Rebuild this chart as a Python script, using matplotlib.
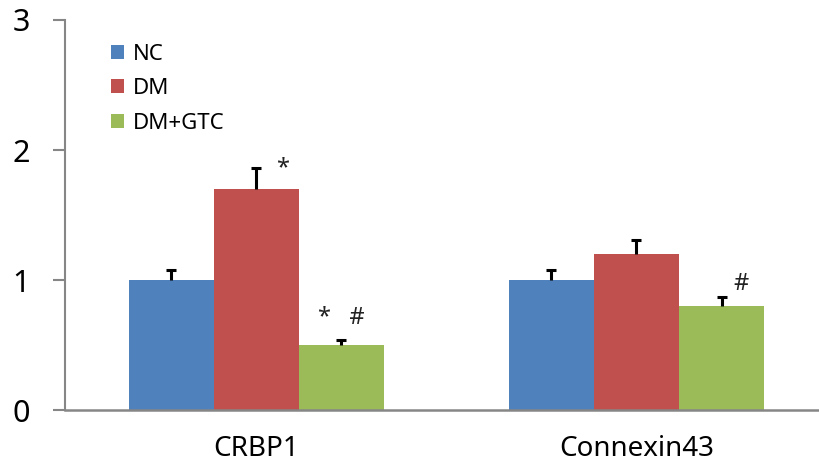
import numpy as np
import matplotlib
matplotlib.use('Agg')
import matplotlib.pyplot as plt

# data
genes = ['CRBP1', 'Connexin43']
groups = ['NC', 'DM', 'DM+GTC']
nc = [1.0, 1.0]
dm = [1.7, 1.2]
gtc = [0.5, 0.8]
nc_err = [0.08, 0.08]
dm_err = [0.16, 0.11]
gtc_err = [0.04, 0.07]
# significance marks: (gene index, group index, label, dx, dy)
marks = [(0, 1, '*', 0.068, 0.0), (0, 2, '*   #', 0.0, 0.17), (1, 2, '#', 0.05, 0.1)]

colors = ['#4F81BD', '#C0504D', '#9BBB59']
plt.rcParams['font.family'] = ['Noto Sans', 'DejaVu Sans']

fig = plt.figure(figsize=(8.19, 4.65), dpi=100)
ax = fig.add_axes([0.0794, 0.118, 0.9206, 0.839])

x = np.arange(len(genes))
w = 0.224
series = [nc, dm, gtc]
errs = [nc_err, dm_err, gtc_err]
for i, (vals, err) in enumerate(zip(series, errs)):
    pos = x + (i - 1) * w
    ax.bar(pos, vals, w, color=colors[i], label=groups[i], zorder=2)
    eb = ax.errorbar(pos, vals, yerr=[np.zeros(len(err)), err], fmt='none',
                     ecolor='black', elinewidth=2.2, capsize=3.5, capthick=2.2, zorder=3)
    eb[1][0].set_visible(False)  # only the upper cap

for g, k, lab, dx, dy in marks:
    top = series[k][g] + errs[k][g]
    ax.text(x[g] + (k - 1) * w + dx, top + dy, lab, ha='center', va='center',
            fontsize=17, color='#222222')

ax.set_xlim(-0.503, 1.48)
ax.set_ylim(0, 3)
ax.set_yticks([0, 1, 2, 3])
ax.set_xticks(x)
ax.set_xticklabels(genes, fontsize=20)
ax.tick_params(axis='y', labelsize=22, length=8.5, width=1.5, color='#868686', pad=17)
ax.tick_params(axis='x', length=0, pad=18)

for s in ['top', 'right']:
    ax.spines[s].set_visible(False)
ax.spines['left'].set_color('#868686')
ax.spines['left'].set_linewidth(1.5)
ax.spines['bottom'].set_color('#868686')
ax.spines['bottom'].set_linewidth(1.8)
ax.spines['bottom'].set_zorder(4)

ax.legend(loc='upper left', bbox_to_anchor=(0.034, 0.99), frameon=False,
          fontsize=16, handlelength=0.6, handleheight=0.6, handletextpad=0.4,
          labelspacing=0.6)

fig.savefig('out.png', dpi=100)
